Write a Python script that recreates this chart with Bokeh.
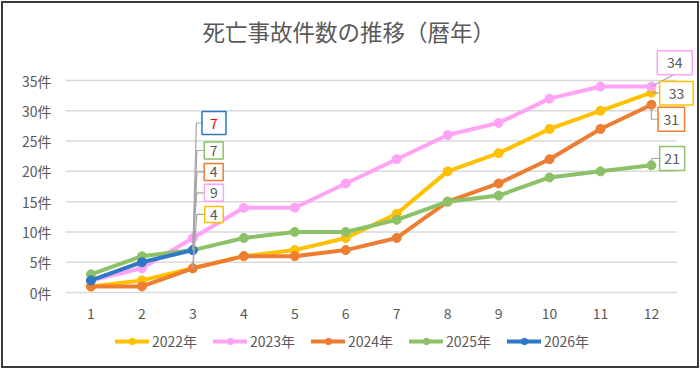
from bokeh.plotting import figure
from bokeh.models import Range1d, FixedTicker, Legend, LegendItem
from bokeh.core.properties import value
from bokeh.embed import file_html
from bokeh.resources import INLINE

# ---------------- data ----------------
TITLE = "死亡事故件数の推移（暦年）"
MONTHS = [1, 2, 3, 4, 5, 6, 7, 8, 9, 10, 11, 12]
X_TICK_LABELS = ["1", "2", "3", "4", "5", "6", "7", "8", "9", "10", "11", "12"]
Y_TICKS = [0, 5, 10, 15, 20, 25, 30, 35]
Y_TICK_LABELS = ["0件", "5件", "10件", "15件", "20件", "25件", "30件", "35件"]

SERIES_NAMES = ["2022年", "2023年", "2024年", "2025年", "2026年"]
S2022 = [1, 2, 4, 6, 7, 9, 13, 20, 23, 27, 30, 33]
S2023 = [2, 4, 9, 14, 14, 18, 22, 26, 28, 32, 34, 34]
S2024 = [1, 1, 4, 6, 6, 7, 9, 15, 18, 22, 27, 31]
S2025 = [3, 6, 7, 9, 10, 10, 12, 15, 16, 19, 20, 21]
S2026 = [2, 5, 7]
SERIES = [S2022, S2023, S2024, S2025, S2026]

# labelled points: (series index, month)
LABELLED = [(4, 3), (3, 3), (2, 3), (1, 3), (0, 3),
            (1, 12), (0, 12), (2, 12), (3, 12)]

# ---------------- style / layout ----------------
COLORS = ["#FFC000", "#FFA3F7", "#ED7D31", "#8CC168", "#2E78C4"]
TXT = "#595959"
FONT = "Noto Sans CJK JP"
W, H = 700, 369
ML, MR, MT, MB = 65, 0, 46, 0
ZERO_Y = 292        # pixel row of the value 0
FW, FH = W - ML - MR, H - MT - MB
SX = 50.95          # px per month
SY = 6.057          # px per count
X0 = MONTHS[0] - 0.5
X1 = X0 + FW / SX
Y0 = -(H - MB - ZERO_Y) / SY
Y1 = Y0 + FH / SY

# label layout (px, relative to the data point): box centre, box size, text colour, leader vertices
LABEL_STYLE = [
    dict(dx=21.1, dy=-127.1, w=24, h=23, tc="#FF0000", lead=[(0, 0), (3.5, -127.1), (9.1, -127.1)]),
    dict(dx=20.8, dy=-99.6, w=19, h=17, tc=TXT, lead=[(0, 0), (4, -99.6), (11.3, -99.6)]),
    dict(dx=20.8, dy=-96.3, w=19, h=17, tc=TXT, lead=[(0, 0), (4, -96.3), (11.3, -96.3)]),
    dict(dx=21.0, dy=-45.2, w=19, h=17, tc=TXT, lead=[(0, 0), (4, -45.2), (11.5, -45.2)]),
    dict(dx=21.1, dy=-53.8, w=18.5, h=16, tc=TXT, lead=[(0, 0), (4, -53.8), (11.8, -53.8)]),
    dict(dx=23.3, dy=-23.9, w=35, h=24, tc=TXT, lead=[(0, 0), (22.3, -11.8)]),
    dict(dx=25.0, dy=0.6, w=33.5, h=23.5, tc=TXT, lead=[(0, 0), (8.3, 0.6)]),
    dict(dx=19.9, dy=14.5, w=26.5, h=24, tc=TXT, lead=[(0, 0), (0, 14.5), (6.6, 14.5)]),
    dict(dx=20.7, dy=-6.8, w=25, h=24, tc=TXT, lead=[(0, 0), (0, -6.8), (8.2, -6.8)]),
]

p = figure(width=W, height=H, x_range=Range1d(X0, X1), y_range=Range1d(Y0, Y1),
           min_border_left=ML, min_border_right=MR, min_border_top=MT, min_border_bottom=MB,
           output_backend="svg", toolbar_location=None, outline_line_color=None,
           background_fill_alpha=0, border_fill_alpha=0)
p.styles = {"outline": "2px solid #3a3a3a", "outline-offset": "-3px"}

# title
p.title.text = TITLE
p.title.align = "left"
p.title.offset = 137
p.title.standoff = 0
p.title.text_font = FONT
p.title.text_font_size = "22.5px"
p.title.text_font_style = "normal"
p.title.text_color = TXT

# axes
p.xgrid.visible = False
p.ygrid.visible = False
p.xaxis.visible = False
p.yaxis.ticker = FixedTicker(ticks=Y_TICKS)
p.yaxis.major_label_overrides = {t: l for t, l in zip(Y_TICKS, Y_TICK_LABELS)}
ax = p.yaxis[0]
ax.axis_line_color = None
ax.major_tick_line_color = None
ax.minor_tick_line_color = None
ax.major_tick_out = 0
ax.major_tick_in = 0
ax.minor_tick_out = 0
ax.major_label_text_font = FONT
ax.major_label_text_font_size = "14px"
ax.major_label_text_color = TXT
ax.major_label_standoff = 14

# category labels under the plot (drawn as text at value 0, offset downward)
p.text(x=MONTHS, y=[0] * len(MONTHS), text=X_TICK_LABELS, y_offset=21,
       text_align="center", text_baseline="middle",
       text_font=value(FONT), text_font_size="14px", text_color=TXT)

# grid lines (own segments so they stop at the last category)
p.segment(x0=[MONTHS[0] - 0.5] * len(Y_TICKS), x1=[MONTHS[-1] + 0.5] * len(Y_TICKS),
          y0=Y_TICKS, y1=Y_TICKS, line_color="#D9D9D9", line_width=1.5)

# series
items = []
for name, s, c in zip(SERIES_NAMES, SERIES, COLORS):
    xs = MONTHS[:len(s)]
    ln = p.line(xs, s, line_color=c, line_width=4, line_join="round", line_cap="round")
    sc = p.scatter(xs, s, marker="circle", size=9, fill_color=c, line_color=c)
    items.append(LegendItem(label=name, renderers=[ln, sc]))

# leader lines
for (si, m), st in zip(LABELLED, LABEL_STYLE):
    v = SERIES[si][MONTHS.index(m)]
    lx = [m + ox / SX for ox, oy in st["lead"]]
    ly = [v - oy / SY for ox, oy in st["lead"]]
    p.line(lx, ly, line_color="#A6A6A6", line_width=1.2)

# data label boxes and texts
for (si, m), st in zip(LABELLED, LABEL_STYLE):
    v = SERIES[si][MONTHS.index(m)]
    p.rect(x=[m + st["dx"] / SX], y=[v - st["dy"] / SY], width=st["w"], height=st["h"],
           width_units="screen", height_units="screen",
           fill_color="white", line_color=COLORS[si], line_width=1.5)
    p.text(x=[m], y=[v], text=[str(v)], x_offset=st["dx"], y_offset=st["dy"],
           text_align="center", text_baseline="middle",
           text_font=value(FONT), text_font_size="14px", text_color=st["tc"])

legend = Legend(items=items, orientation="horizontal", location=(50, 18),
                glyph_width=34, glyph_height=16, label_standoff=3, label_width=46,
                label_height=16, spacing=15, padding=0, margin=0, border_line_color=None,
                background_fill_alpha=0, label_text_font=FONT,
                label_text_font_size="14px", label_text_color=TXT)
p.add_layout(legend)

open("out.html", "w").write(file_html(p, INLINE))
